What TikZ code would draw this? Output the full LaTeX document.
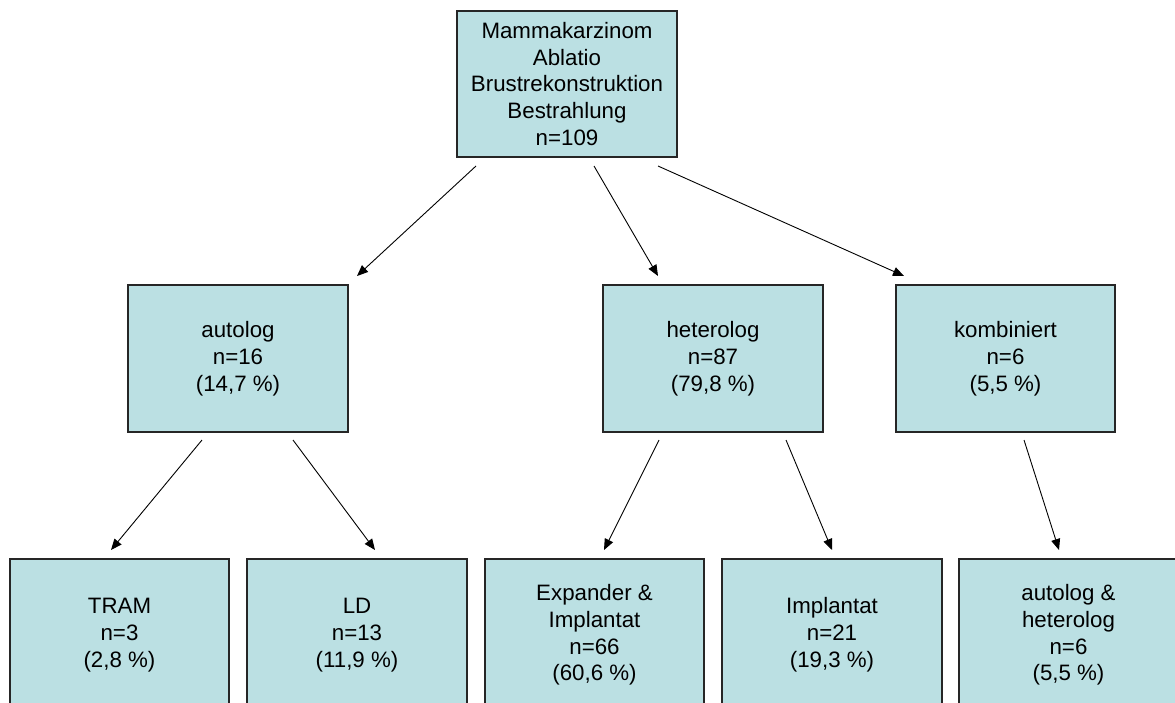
\documentclass[tikz,border=0pt]{standalone}
\usepackage{fontspec}
\setmainfont{Liberation Sans}
\usetikzlibrary{arrows.meta}
\definecolor{boxfill}{RGB}{187,224,227}
\tikzset{
  box/.style={draw=black!85, line width=1.3pt, fill=boxfill, rectangle, inner sep=0pt,
    minimum width=220pt, minimum height=146pt, align=center,
    font=\fontsize{22.3}{26.8}\selectfont},
  lowbox/.style={box, minimum width=219pt, minimum height=152pt},
  conn/.style={line width=0.9pt, -{Triangle[length=11pt,width=9pt]}}
}
\begin{document}
\begin{tikzpicture}[x=1pt,y=-1pt]
\clip (0,0) rectangle (1175,702);
\fill[white] (0,0) rectangle (1175,702);
% boxes
\node[box] (top) at (567,84) {Mammakarzinom\\Ablatio\\Brustrekonstruktion\\Bestrahlung\\n=109};
\node[box, minimum height=147pt] (auto) at (238,358.5) {autolog\\n=16\\(14,7 \%)};
\node[box, minimum height=147pt] (hetero) at (713,358.5) {heterolog\\n=87\\(79,8 \%)};
\node[box, minimum height=147pt, minimum width=219pt] (komb) at (1005.5,358.5) {kombiniert\\n=6\\(5,5 \%)};
\node[lowbox] (tram) at (119.5,635) {TRAM\\n=3\\(2,8 \%)};
\node[lowbox, minimum width=220pt] (ld) at (357,635) {LD\\n=13\\(11,9 \%)};
\node[lowbox] (expi) at (594.5,635) {Expander \&\\Implantat\\n=66\\(60,6 \%)};
\node[lowbox, minimum width=220pt] (impl) at (832,635) {Implantat\\n=21\\(19,3 \%)};
\node[lowbox] (autohet) at (1068.5,635) {autolog \&\\heterolog\\n=6\\(5,5 \%)};
% connector end points
\coordinate (s1) at (476,166); \coordinate (e1) at (357,276);
\coordinate (s2) at (594,166); \coordinate (e2) at (658,276);
\coordinate (s3) at (658,166); \coordinate (e3) at (904,276);
\coordinate (s4) at (202,440); \coordinate (e4) at (111,550);
\coordinate (s5) at (293,440); \coordinate (e5) at (375,550);
\coordinate (s6) at (659,440); \coordinate (e6) at (604,550);
\coordinate (s7) at (786,440); \coordinate (e7) at (832,550);
\coordinate (s8) at (1024,440); \coordinate (e8) at (1059,550);
\draw[conn] (s1) -- (e1);
\draw[conn] (s2) -- (e2);
\draw[conn] (s3) -- (e3);
\draw[conn] (s4) -- (e4);
\draw[conn] (s5) -- (e5);
\draw[conn] (s6) -- (e6);
\draw[conn] (s7) -- (e7);
\draw[conn] (s8) -- (e8);
\end{tikzpicture}
\end{document}
